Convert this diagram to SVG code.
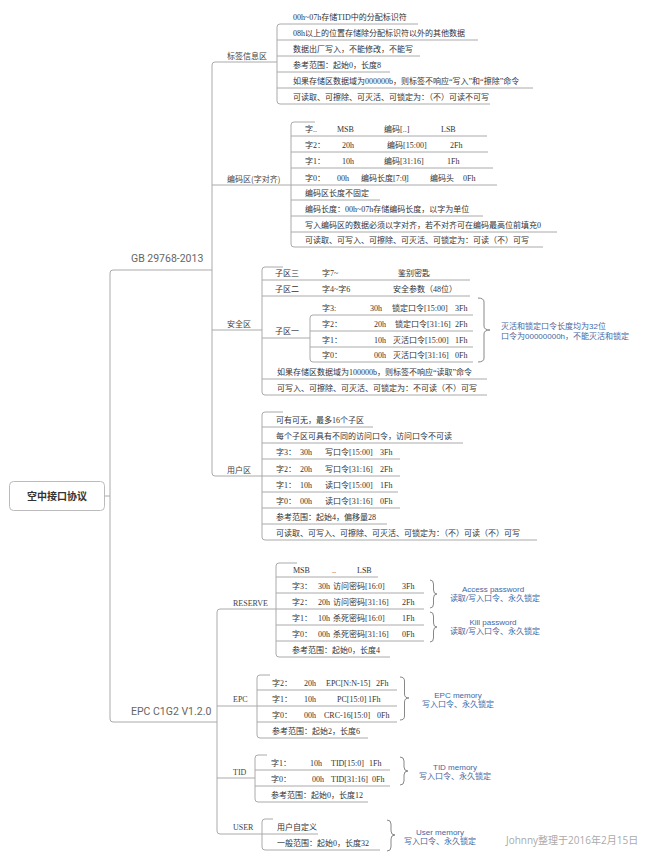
<svg xmlns="http://www.w3.org/2000/svg" width="650" height="861" viewBox="0 0 650 861">
<style>
.ln{fill:none;stroke:#aaa;stroke-width:1}
.br{fill:none;stroke:#888;stroke-width:1}
.t{font-family:"Liberation Serif","Noto Sans CJK SC",serif;font-size:8px;fill:#333}
.lb{font-family:"Noto Sans CJK SC",sans-serif;font-size:8px;fill:#444}
.en{font-family:"Liberation Serif","Noto Sans CJK SC",serif;font-size:8px;fill:#444}
.bl{font-family:"Liberation Sans","Noto Sans CJK SC",sans-serif;font-size:8px;fill:#3f67a3}
.l1{font-family:"Roboto","Liberation Sans",sans-serif;font-size:10.5px;fill:#666}
.root{font-family:"Noto Sans CJK SC",sans-serif;font-size:10px;font-weight:bold;fill:#333}
.note{font-family:"Open Sans","Noto Sans CJK SC",sans-serif;font-size:10px;fill:#aaa}
</style>
<rect width="650" height="861" fill="#fff"/>
<g id="connectors">
<path class="ln" d="M104 496H110M212 270H113Q110 270 110 273V719Q110 722 113 722H217"/>
<path class="ln" d="M277 62H215Q212 62 212 65V473Q212 476 215 476H262M212 185H291M212 330H262"/>
<path class="ln" d="M276 609H220Q217 609 217 612V831Q217 834 220 834H262M217 706H257M217 778H255"/>
<path class="ln" d="M418 24H280Q277 24 277 27V101Q277 104 280 104H490M277 40H478M277 56H420M277 72H390M277 88H533"/>
<path class="ln" d="M315 122H294Q291 122 291 125V244Q291 247 294 247H543M291 136H487M291 152H488M291 168H493M291 185H497M291 200H380M291 216H483M291 232H557"/>
<path class="ln" d="M283 267H265Q262 267 262 270V392Q262 395 265 395H487M262 280H470M262 296H470M262 338H310M262 379H487"/>
<path class="ln" d="M473 315H313Q310 315 310 318V359Q310 362 313 362H473M310 331H473M310 347H473"/>
<path class="ln" d="M283 412H265Q262 412 262 415V537Q262 540 265 540H537M262 427H373M262 443H463M262 459H400M262 476H400M262 492H398M262 508H400M262 524H387"/>
<path class="ln" d="M297 563H279Q276 563 276 566V654Q276 657 279 657H390M276 577H378M276 593H424M276 609H424M276 625H424M276 641H424"/>
<path class="ln" d="M270 675H260Q257 675 257 678V735Q257 738 260 738H368M257 690H397M257 706H397M257 722H397"/>
<path class="ln" d="M267 755H258Q255 755 255 758V799Q255 802 258 802H368M255 770H390M255 786H390"/>
<path class="ln" d="M273 819H265Q262 819 262 822V847Q262 850 265 850H380M262 834H318"/>
<path class="br" d="M478 298Q484 298 484 302V326Q484 330 490 330Q484 330 484 334V358Q484 362 478 362"/>
<path class="br" d="M430 580Q433.5 580 433.5 584V590Q433.5 594 437 594Q433.5 594 433.5 598V604Q433.5 608 430 608"/>
<path class="br" d="M430 612Q433.5 612 433.5 616V623Q433.5 627 437 627Q433.5 627 433.5 631V638Q433.5 642 430 642"/>
<path class="br" d="M400 677Q404.5 677 404.5 681V694Q404.5 698 409 698Q404.5 698 404.5 702V716Q404.5 720 400 720"/>
<path class="br" d="M400 757Q404 757 404 761V767Q404 771 408 771Q404 771 404 775V781Q404 785 400 785"/>
<path class="br" d="M387 820Q391 820 391 824V831Q391 835 395 835Q391 835 391 839V847Q391 851 387 851"/>
</g>
<g id="root">
<rect x="9.5" y="481.5" width="95" height="29" rx="4" fill="#fff" stroke="#bbb"/>
<text class="root" x="57" y="500" text-anchor="middle">空中接口协议</text>
</g>
<g id="gb"><text class="l1" x="131" y="262">GB 29768-2013</text></g>
<g id="epcc1g2"><text class="l1" x="131" y="715">EPC C1G2 V1.2.0</text></g>
<g id="tag-info">
<text class="lb" x="227" y="59">标签信息区</text>
<text class="t" x="293" y="20">00h~07h存储TID中的分配标识符</text>
<text class="t" x="293" y="36">08h以上的位置存储除分配标识符以外的其他数据</text>
<text class="t" x="293" y="52">数据出厂写入，不能修改，不能写</text>
<text class="t" x="293" y="68">参考范围：起始0，长度8</text>
<text class="t" x="293" y="84">如果存储区数据域为000000b，则标签不响应“写入”和“擦除”命令</text>
<text class="t" x="293" y="100">可读取、可擦除、可灭活、可锁定为：（不）可读不可写</text>
</g>
<g id="code-area">
<text class="lb" x="227" y="182">编码区(字对齐)</text>
<text class="t" y="132"><tspan x="305">字..</tspan><tspan x="337">MSB</tspan><tspan x="384">编码[..]</tspan><tspan x="441">LSB</tspan></text>
<text class="t" y="148"><tspan x="305">字2：</tspan><tspan x="342">20h</tspan><tspan x="387">编码[15:00]</tspan><tspan x="450">2Fh</tspan></text>
<text class="t" y="164"><tspan x="305">字1：</tspan><tspan x="342">10h</tspan><tspan x="384">编码[31:16]</tspan><tspan x="447">1Fh</tspan></text>
<text class="t" y="181"><tspan x="305">字0：</tspan><tspan x="337">00h</tspan><tspan x="361">编码长度[7:0]</tspan><tspan x="405">|</tspan><tspan x="430">编码头</tspan><tspan x="463">0Fh</tspan></text>
<text class="t" x="305" y="196">编码区长度不固定</text>
<text class="t" x="305" y="212">编码长度：00h~07h存储编码长度，以字为单位</text>
<text class="t" x="305" y="228">写入编码区的数据必须以字对齐，若不对齐可在编码最高位前填充0</text>
<text class="t" x="305" y="243">可读取、可写入、可擦除、可灭活、可锁定为：可读（不）可写</text>
</g>
<g id="security">
<text class="lb" x="227" y="327">安全区</text>
<text class="t" y="276"><tspan x="275">子区三</tspan><tspan x="322">字7~</tspan><tspan x="398">鉴别密匙</tspan></text>
<text class="t" y="292"><tspan x="275">子区二</tspan><tspan x="322">字4~字6</tspan><tspan x="393">安全参数（48位）</tspan></text>
<text class="t" x="275" y="334">子区一</text>
<text class="t" y="311"><tspan x="322">字3:</tspan><tspan x="370">30h</tspan><tspan x="392">锁定口令[15:00]</tspan><tspan x="455">3Fh</tspan></text>
<text class="t" y="327"><tspan x="322">字2：</tspan><tspan x="374">20h</tspan><tspan x="395">锁定口令[31:16]</tspan><tspan x="455">2Fh</tspan></text>
<text class="t" y="343"><tspan x="322">字1：</tspan><tspan x="374">10h</tspan><tspan x="393">灭活口令[15:00]</tspan><tspan x="455">1Fh</tspan></text>
<text class="t" y="358"><tspan x="322">字0：</tspan><tspan x="374">00h</tspan><tspan x="393">灭活口令[31:16]</tspan><tspan x="455">0Fh</tspan></text>
<text class="t" x="277" y="375">如果存储区数据域为100000b，则标签不响应“读取”命令</text>
<text class="t" x="277" y="391">可写入、可擦除、可灭活、可锁定为：不可读（不）可写</text>
<text class="bl" x="501" y="329">灭活和锁定口令长度均为32位</text>
<text class="bl" x="501" y="339">口令为00000000h，不能灭活和锁定</text>
</g>
<g id="user-area">
<text class="lb" x="227" y="473">用户区</text>
<text class="t" x="276" y="423">可有可无，最多16个子区</text>
<text class="t" x="276" y="439">每个子区可具有不同的访问口令，访问口令不可读</text>
<text class="t" y="455"><tspan x="276">字3：</tspan><tspan x="300">30h</tspan><tspan x="325">写口令[15:00]</tspan><tspan x="380">3Fh</tspan></text>
<text class="t" y="472"><tspan x="276">字2：</tspan><tspan x="300">20h</tspan><tspan x="325">写口令[31:16]</tspan><tspan x="380">2Fh</tspan></text>
<text class="t" y="488"><tspan x="276">字1：</tspan><tspan x="300">10h</tspan><tspan x="325">读口令[15:00]</tspan><tspan x="380">1Fh</tspan></text>
<text class="t" y="504"><tspan x="276">字0：</tspan><tspan x="300">00h</tspan><tspan x="325">读口令[31:16]</tspan><tspan x="380">0Fh</tspan></text>
<text class="t" x="276" y="520">参考范围：起始4，偏移量28</text>
<text class="t" x="276" y="536">可读取、可写入、可擦除、可灭活、可锁定为：（不）可读（不）可写</text>
</g>
<g id="reserve">
<text class="en" x="233" y="606">RESERVE</text>
<text class="t" y="573"><tspan x="293">MSB</tspan><tspan x="332">..</tspan><tspan x="357">LSB</tspan></text>
<text class="t" y="589"><tspan x="292">字3：</tspan><tspan x="318">30h</tspan><tspan x="333">访问密码[16:0]</tspan><tspan x="402">3Fh</tspan></text>
<text class="t" y="605"><tspan x="292">字2：</tspan><tspan x="318">20h</tspan><tspan x="333">访问密码[31:16]</tspan><tspan x="402">2Fh</tspan></text>
<text class="t" y="621"><tspan x="292">字1：</tspan><tspan x="318">10h</tspan><tspan x="333">杀死密码[16:0]</tspan><tspan x="402">1Fh</tspan></text>
<text class="t" y="637"><tspan x="292">字0：</tspan><tspan x="318">00h</tspan><tspan x="333">杀死密码[31:16]</tspan><tspan x="402">0Fh</tspan></text>
<text class="t" x="292" y="653">参考范围：起始0，长度4</text>
<text class="bl" x="493" y="592" text-anchor="middle">Access password</text>
<text class="bl" x="495" y="601" text-anchor="middle">读取/写入口令、永久锁定</text>
<text class="bl" x="493" y="625" text-anchor="middle">Kill password</text>
<text class="bl" x="495" y="634" text-anchor="middle">读取/写入口令、永久锁定</text>
</g>
<g id="epc">
<text class="en" x="233" y="702">EPC</text>
<text class="t" y="686"><tspan x="272">字2：</tspan><tspan x="304">20h</tspan><tspan x="326">EPC[N:N-15]</tspan><tspan x="376">2Fh</tspan></text>
<text class="t" y="702"><tspan x="272">字1：</tspan><tspan x="304">10h</tspan><tspan x="337">PC[15:0]</tspan><tspan x="368">1Fh</tspan></text>
<text class="t" y="718"><tspan x="272">字0：</tspan><tspan x="304">00h</tspan><tspan x="324">CRC-16[15:0]</tspan><tspan x="377">0Fh</tspan></text>
<text class="t" x="272" y="734">参考范围：起始2，长度6</text>
<text class="bl" x="458" y="698" text-anchor="middle">EPC memory</text>
<text class="bl" x="458" y="707" text-anchor="middle">写入口令、永久锁定</text>
</g>
<g id="tid">
<text class="en" x="233" y="775">TID</text>
<text class="t" y="766"><tspan x="271">字1：</tspan><tspan x="310">10h</tspan><tspan x="331">TID[15:0]</tspan><tspan x="369">1Fh</tspan></text>
<text class="t" y="782"><tspan x="271">字0：</tspan><tspan x="312">00h</tspan><tspan x="331">TID[31:16]</tspan><tspan x="372">0Fh</tspan></text>
<text class="t" x="271" y="798">参考范围：起始0，长度12</text>
<text class="bl" x="455" y="770" text-anchor="middle">TID memory</text>
<text class="bl" x="455" y="779" text-anchor="middle">写入口令、永久锁定</text>
</g>
<g id="user">
<text class="en" x="233" y="830">USER</text>
<text class="t" x="277" y="830">用户自定义</text>
<text class="t" x="277" y="846">一般范围：起始0，长度32</text>
<text class="bl" x="440" y="835" text-anchor="middle">User memory</text>
<text class="bl" x="440" y="844" text-anchor="middle">写入口令、永久锁定</text>
</g>
<g id="author"><text class="note" x="506" y="844">Johnny整理于2016年2月15日</text></g>
</svg>
